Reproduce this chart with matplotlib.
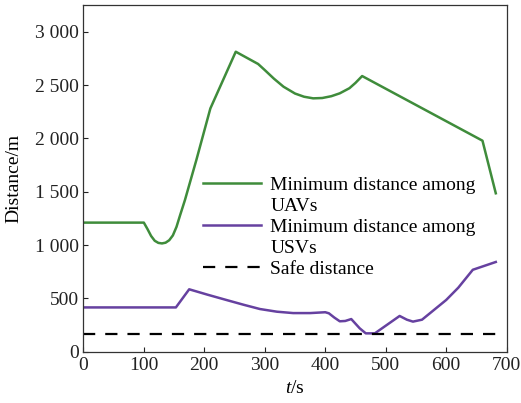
import matplotlib
matplotlib.use("Agg")
import matplotlib.pyplot as plt
from matplotlib.lines import Line2D

plt.rcParams['font.family'] = ['Liberation Serif', 'DejaVu Serif']
plt.rcParams['mathtext.fontset'] = 'custom'
plt.rcParams['mathtext.it'] = 'Liberation Serif:italic'
plt.rcParams['mathtext.rm'] = 'Liberation Serif'

# Minimum distance among UAVs
uav_t = [0, 100, 106, 112, 118, 124, 130, 136, 142, 148, 154, 160, 168, 187, 210,
         252, 289, 300, 315, 331, 350, 365, 380, 395, 410, 424, 440, 450, 461, 660, 682]
uav_d = [1210, 1210, 1150, 1085, 1040, 1020, 1015, 1022, 1045, 1090, 1170, 1280, 1422, 1800, 2280,
         2812, 2697, 2640, 2560, 2484, 2420, 2390, 2375, 2378, 2395, 2422, 2470, 2520, 2584, 1978, 1485]

# Minimum distance among USVs
usv_t = [0, 153, 175, 205, 237, 265, 292, 320, 347, 375, 400, 406, 415, 424, 433, 443,
         457, 467, 482, 523, 535, 545, 560, 573, 600, 620, 644, 682]
usv_d = [415, 415, 585, 535, 484, 440, 400, 375, 362, 362, 370, 360, 320, 285, 288, 306,
         219, 172, 172, 335, 300, 282, 300, 360, 485, 600, 768, 841]

# Safe distance
safe_t = [0, 690]
safe_d = [165, 165]

xticks = [0, 100, 200, 300, 400, 500, 600, 700]
yticks = [0, 500, 1000, 1500, 2000, 2500, 3000]
ytick_labels = ['0', '500', '1 000', '1 500', '2 000', '2 500', '3 000']

green = '#3f8c3b'
purple = '#6641a0'

fig = plt.figure(figsize=(5.21, 4.03), dpi=100)
ax = fig.add_axes([0.160, 0.1273, 0.8125, 0.8603])

ax.plot(uav_t, uav_d, color=green, lw=1.8)
ax.plot(usv_t, usv_d, color=purple, lw=1.8)
ax.plot(safe_t, safe_d, color='black', lw=1.6, dashes=(5.5, 4.5))

ax.set_xlim(0, 700)
ax.set_ylim(0, 3250)
ax.set_xticks(xticks)
ax.set_yticks(yticks)
ax.set_yticklabels(ytick_labels)
ax.tick_params(direction='in', length=3.5, width=0.8, labelsize=14, colors='#222222')
ax.tick_params(axis='x', pad=4)
ax.tick_params(axis='y', pad=3)
for s in ax.spines.values():
    s.set_color('#333333')
    s.set_linewidth(0.9)

ax.set_xlabel('$t$/s', fontsize=14, labelpad=4)
ax.set_ylabel('Distance/m', fontsize=14, labelpad=9)

handles = [Line2D([], [], color=green, lw=1.8),
           Line2D([], [], color='none'),
           Line2D([], [], color=purple, lw=1.8),
           Line2D([], [], color='none'),
           Line2D([], [], color='black', lw=1.6, dashes=(5.5, 4.5))]
labels = ['Minimum distance among', 'UAVs', 'Minimum distance among', 'USVs', 'Safe distance']
ax.legend(handles, labels, loc='upper left', bbox_to_anchor=(0.283, 0.505),
          frameon=False, fontsize=14, handlelength=3.0, handletextpad=0.45,
          labelspacing=0.17, borderpad=0, borderaxespad=0)

fig.savefig('out.png', dpi=100)
